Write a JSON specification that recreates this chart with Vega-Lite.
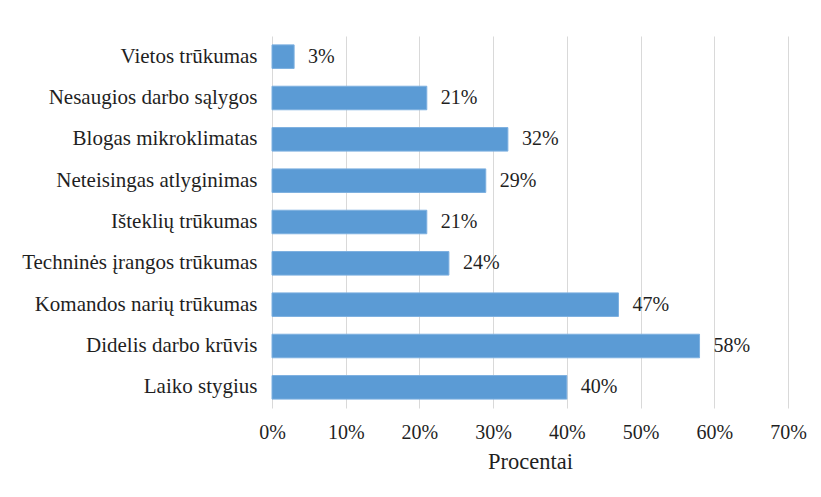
{
  "$schema": "https://vega.github.io/schema/vega-lite/v6.json",
  "autosize": {"type": "none"},
  "padding": {"left": 272, "top": 36, "right": 33, "bottom": 89},
  "width": 516,
  "height": 372,
  "background": "white",
  "config": {
    "font": "'Liberation Serif', 'Times New Roman', serif",
    "view": {"stroke": null},
    "text": {"font": "'Liberation Serif', 'Times New Roman', serif"},
    "axis": {
      "labelFont": "'Liberation Serif', 'Times New Roman', serif",
      "titleFont": "'Liberation Serif', 'Times New Roman', serif",
      "labelColor": "#1f1f1f",
      "titleColor": "#1f1f1f"
    }
  },
  "data": {
    "values": [
      {"priezastis": "Vietos trūkumas", "dalis": 0.03},
      {"priezastis": "Nesaugios darbo sąlygos", "dalis": 0.21},
      {"priezastis": "Blogas mikroklimatas", "dalis": 0.32},
      {"priezastis": "Neteisingas atlyginimas", "dalis": 0.29},
      {"priezastis": "Išteklių trūkumas", "dalis": 0.21},
      {"priezastis": "Techninės įrangos trūkumas", "dalis": 0.24},
      {"priezastis": "Komandos narių trūkumas", "dalis": 0.47},
      {"priezastis": "Didelis darbo krūvis", "dalis": 0.58},
      {"priezastis": "Laiko stygius", "dalis": 0.40}
    ]
  },
  "encoding": {
    "y": {
      "field": "priezastis",
      "type": "nominal",
      "sort": null,
      "scale": {"paddingInner": 0.43, "paddingOuter": 0.215},
      "axis": {
        "title": null,
        "domain": false,
        "ticks": false,
        "labelFontSize": 21,
        "labelPadding": 15,
        "labelLimit": 400
      }
    },
    "x": {
      "field": "dalis",
      "type": "quantitative",
      "scale": {"domain": [0, 0.7], "nice": false},
      "axis": {
        "title": "Procentai",
        "format": ".0%",
        "values": [0, 0.1, 0.2, 0.3, 0.4, 0.5, 0.6, 0.7],
        "domain": false,
        "ticks": false,
        "grid": true,
        "gridColor": "#D9D9D9",
        "gridWidth": 1,
        "labelFlush": false,
        "labelFontSize": 20,
        "labelPadding": 14,
        "titleFontSize": 22.5,
        "titleFontWeight": "normal",
        "titlePadding": 8
      }
    }
  },
  "layer": [
    {
      "mark": {"type": "bar", "color": "#5B9BD5", "stroke": "#7DB0E0", "strokeWidth": 1}
    },
    {
      "mark": {"type": "text", "align": "left", "baseline": "middle", "dx": 14, "fontSize": 20, "color": "#1f1f1f"},
      "encoding": {
        "text": {"field": "dalis", "type": "quantitative", "format": ".0%"}
      }
    }
  ]
}
